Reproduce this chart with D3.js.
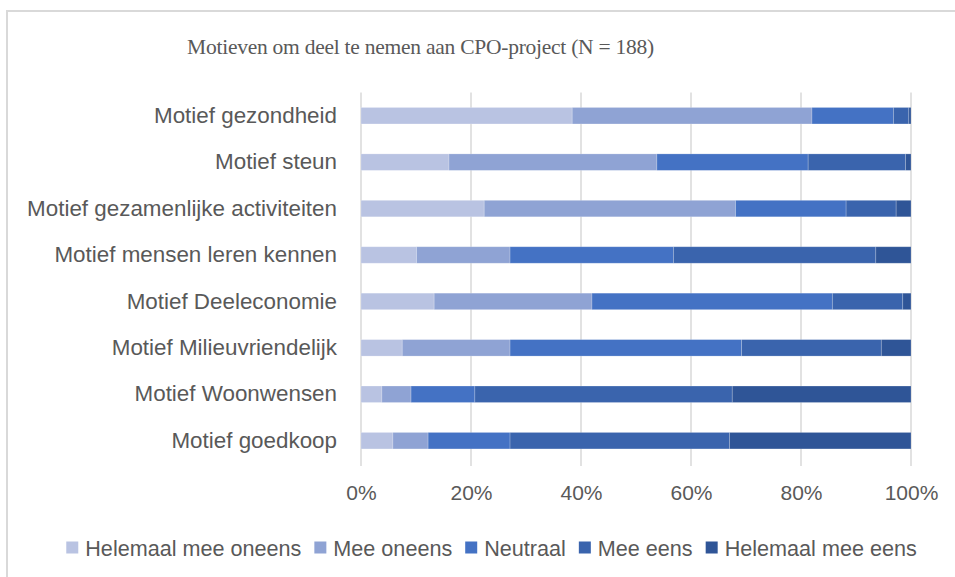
<!DOCTYPE html>
<html><head><meta charset="utf-8">
<script src="https://cdn.jsdelivr.net/npm/d3@7"></script>
<style>body{margin:0;background:#fff}svg{display:block}</style>
</head><body>
<script>
const title = "Motieven om deel te nemen aan CPO-project (N = 188)";
const categories = ["Motief gezondheid","Motief steun","Motief gezamenlijke activiteiten","Motief mensen leren kennen","Motief Deeleconomie","Motief Milieuvriendelijk","Motief Woonwensen","Motief goedkoop"];
const seriesNames = ["Helemaal mee oneens","Mee oneens","Neutraal","Mee eens","Helemaal mee eens"];
const helemaalOneens = [38.4,16.0,22.4,10.1,13.3,7.5,3.8,5.8];
const meeOneens      = [43.6,37.8,45.7,17.0,28.7,19.6,5.3,6.4];
const neutraal       = [14.8,27.5,20.1,29.7,43.7,42.1,11.6,14.9];
const meeEens        = [2.8,17.7,9.1,36.8,12.8,25.4,46.8,39.9];
const helemaalEens   = [0.4,1.0,2.7,6.4,1.5,5.4,32.5,33.0];
const tickValues = [0,0.2,0.4,0.6,0.8,1.0];
const colors = ["#B9C3E2","#8FA3D4","#4472C4","#3A64AD","#2F5597"];

const W=955,H=577;
const svg=d3.select("body").append("svg").attr("width",W).attr("height",H);
svg.append("rect").attr("x",7).attr("y",11).attr("width",1000).attr("height",1000)
  .attr("fill","#fff").attr("stroke","#D9D9D9").attr("stroke-width",2);

const txt="#595959", sans="'Liberation Sans', Arial, sans-serif";
const x=d3.scaleLinear().domain([0,1]).range([361,911]);
const y=d3.scaleBand().domain(categories).range([92.5,463.9]).paddingInner(0.645).paddingOuter(0.3225);

// title
svg.append("text").attr("x",420.5).attr("y",54).attr("text-anchor","middle")
  .attr("font-family","'Liberation Serif','Times New Roman',serif")
  .attr("font-size",21.5).attr("letter-spacing",-0.25).attr("fill",txt).text(title);

// gridlines
svg.append("g").selectAll("line").data(tickValues).join("line")
  .attr("x1",d=>x(d)).attr("x2",d=>x(d)).attr("y1",92.5).attr("y2",466)
  .attr("stroke","#D9D9D9").attr("stroke-width",1.5);

// stacked data
const rows=categories.map((c,i)=>{
  const o={cat:c}; [helemaalOneens,meeOneens,neutraal,meeEens,helemaalEens].forEach((a,j)=>o[seriesNames[j]]=a[i]/100); return o;});
const stack=d3.stack().keys(seriesNames)(rows);
svg.append("g").selectAll("g").data(stack).join("g").attr("fill",(d,i)=>colors[i])
  .selectAll("rect").data(d=>d).join("rect")
  .attr("x",d=>x(d[0])).attr("width",d=>x(d[1])-x(d[0]))
  .attr("y",d=>y(d.data.cat)).attr("height",y.bandwidth())
  .attr("stroke","#ffffff").attr("stroke-opacity",0.25).attr("stroke-width",0.8);

// y axis labels
const yAxis=d3.axisLeft(y).tickSize(0).tickPadding(24);
const gy=svg.append("g").attr("transform","translate(361,0)").call(yAxis);
gy.select(".domain").remove();
gy.selectAll("text").attr("font-family",sans).attr("font-size",22.4).attr("fill",txt);

// x axis
const xAxis=d3.axisBottom(x).tickValues(tickValues).tickFormat(d3.format(".0%")).tickSize(0).tickPadding(20);
const gx=svg.append("g").attr("transform","translate(0,480)").call(xAxis);
gx.select(".domain").remove();
gx.selectAll("text").attr("font-family",sans).attr("font-size",21).attr("fill",txt).attr("dy","0");

// legend
const lg=svg.append("g");
let cx=0;
seriesNames.forEach((n,i)=>{
  const g=lg.append("g");
  g.append("rect").attr("x",0).attr("y",-6.5).attr("width",12).attr("height",12).attr("fill",colors[i]);
  const t=g.append("text").attr("x",19).attr("y",0).attr("dy","0.35em").attr("font-family",sans).attr("font-size",21.6).attr("fill",txt).text(n);
  const w=19+t.node().getComputedTextLength();
  g.attr("transform",`translate(${cx},0)`); cx+=w+13;
});
const total=cx-13;
lg.attr("transform",`translate(${491.5-total/2},548)`);
</script>
</body></html>
